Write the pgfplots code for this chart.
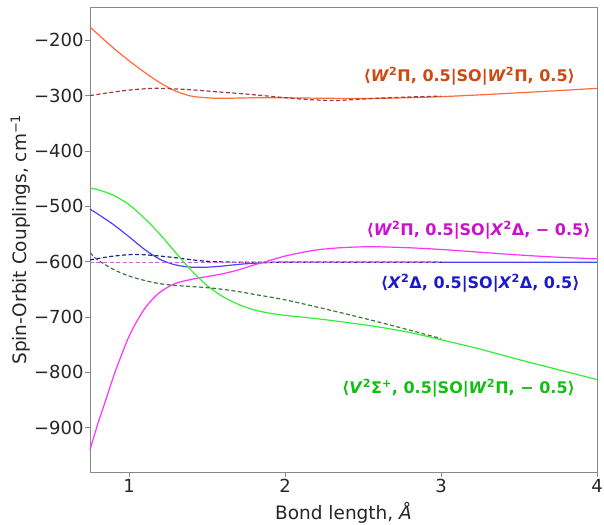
\documentclass[border=0pt]{standalone}
\usepackage{fontspec}
\setmainfont{DejaVu Sans}
\usepackage{pgfplots}
\pgfplotsset{compat=1.18}
\definecolor{orsol}{HTML}{FF6B3A}
\definecolor{brdash}{HTML}{A33A3A}
\definecolor{orlab}{HTML}{CC4A10}
\definecolor{magsol}{HTML}{FF33FF}
\definecolor{magdash}{HTML}{CC66CC}
\definecolor{maglab}{HTML}{CC10CC}
\definecolor{blsol}{HTML}{4444FF}
\definecolor{bldash}{HTML}{202090}
\definecolor{bllab}{HTML}{1A1ACC}
\definecolor{grsol}{HTML}{33EE33}
\definecolor{grdash}{HTML}{3A7A3A}
\definecolor{grlab}{HTML}{10C010}
\definecolor{frame}{HTML}{888888}
\begin{document}
\begin{tikzpicture}
\begin{axis}[
  scale only axis,
  width=507pt, height=465pt,
  clip=false,
  xmin=0.75, xmax=4, ymin=-980, ymax=-140,
  xtick={1,2,3,4}, xticklabels={1,2,3,4},
  ytick={-900,-800,-700,-600,-500,-400,-300,-200},
  yticklabels={−900,−800,−700,−600,−500,−400,−300,−200},
  tick align=outside, tick pos=left,
  major tick length=5pt,
  axis line style={frame, line width=0.8pt},
  tick style={frame, line width=0.8pt},
  tick label style={font=\fontsize{18}{21}\selectfont, text=black!85},
  label style={font=\fontsize{18.5}{21}\selectfont, text=black!85},
  yticklabel style={xshift=2pt},
  xticklabel style={yshift=1pt},
  xlabel={Bond length, \textit{Å}},
  ylabel={Spin-Orbit Couplings, cm\textsuperscript{−1}},
  xlabel style={yshift=-2pt},
  ylabel style={yshift=-3pt},
]
% W2Pi diagonal
\addplot[orsol, line width=1.2pt, smooth] coordinates {(0.75,-176) (0.8,-189) (0.9,-214) (1.0,-237) (1.1,-258) (1.2,-277) (1.3,-292) (1.4,-301) (1.5,-304) (1.6,-305) (1.8,-304) (2.0,-304) (2.3,-305) (2.6,-305) (3.0,-302) (3.5,-295) (4.0,-287)};
\addplot[brdash, line width=1.2pt, smooth, dash pattern=on 4pt off 2.5pt] coordinates {(0.75,-300) (0.97,-291) (1.15,-287) (1.3,-288) (1.42,-290) (1.6,-294) (1.78,-298) (2.09,-306) (2.31,-309) (2.51,-306) (2.75,-303) (3.0,-301)};
% X2Delta diagonal
\addplot[blsol, line width=1.2pt, smooth] coordinates {(0.75,-505) (0.8,-514) (0.9,-533) (1.0,-555) (1.1,-578) (1.2,-596) (1.3,-606) (1.4,-610) (1.5,-610) (1.6,-608) (1.7,-605) (1.8,-603) (2.0,-601) (2.5,-601) (3,-601) (3.5,-601) (4,-601)};
\addplot[bldash, line width=1.2pt, smooth, dash pattern=on 4pt off 2.5pt] coordinates {(0.75,-597) (0.9,-590) (1.06,-587) (1.27,-592) (1.48,-599) (1.7,-601) (2,-601) (2.5,-601) (3,-601)};
% W2Pi / X2Delta off-diagonal
\addplot[magsol, line width=1.2pt, smooth] coordinates {(0.75,-940) (0.8,-893) (0.85,-851) (0.9,-808) (0.95,-770) (1.0,-735) (1.05,-708) (1.1,-685) (1.15,-668) (1.2,-655) (1.25,-646) (1.3,-639) (1.4,-632) (1.5,-627) (1.6,-622) (1.7,-615) (1.8,-606) (1.9,-598) (2.0,-590) (2.1,-584) (2.2,-579) (2.35,-575) (2.55,-573) (2.8,-575) (3.0,-578) (3.25,-583) (3.5,-588) (3.75,-592) (4.0,-595)};
\addplot[magdash, line width=1.2pt, dash pattern=on 4pt off 2.5pt] coordinates {(0.75,-601) (1.5,-601) (2.25,-601) (3,-601)};
% V2Sigma / W2Pi off-diagonal
\addplot[grsol, line width=1.2pt, smooth] coordinates {(0.75,-467) (0.8,-470) (0.9,-480) (1.0,-497) (1.1,-522) (1.2,-551) (1.3,-584) (1.4,-616) (1.5,-643) (1.6,-663) (1.7,-677) (1.8,-687) (1.9,-693) (2.0,-697) (2.2,-703) (2.4,-710) (2.6,-718) (2.8,-728) (3.0,-741) (3.25,-758) (3.5,-777) (3.75,-795) (4.0,-813)};
\addplot[grdash, line width=1.2pt, smooth, dash pattern=on 4pt off 2.5pt] coordinates {(0.75,-584) (0.8,-597) (0.9,-614) (1.0,-626) (1.1,-634) (1.2,-640) (1.3,-643) (1.4,-645) (1.5,-647) (1.6,-650) (1.7,-654) (1.8,-659) (2.0,-669) (2.25,-685) (2.5,-702) (2.75,-720) (3.0,-739)};
% labels
\node[anchor=east, inner sep=0pt, text=orlab, font=\fontsize{16}{19}\selectfont\bfseries] at (axis cs:3.86,-265) {⟨\textit{W}\textsuperscript{2}Π, 0.5|SO|\textit{W}\textsuperscript{2}Π, 0.5⟩};
\node[anchor=east, inner sep=0pt, text=maglab, font=\fontsize{16}{19}\selectfont\bfseries] at (axis cs:3.96,-543) {⟨\textit{W}\textsuperscript{2}Π, 0.5|SO|\textit{X}\textsuperscript{2}Δ, − 0.5⟩};
\node[anchor=east, inner sep=0pt, text=bllab, font=\fontsize{16}{19}\selectfont\bfseries] at (axis cs:3.89,-639) {⟨\textit{X}\textsuperscript{2}Δ, 0.5|SO|\textit{X}\textsuperscript{2}Δ, 0.5⟩};
\node[anchor=east, inner sep=0pt, text=grlab, font=\fontsize{16}{19}\selectfont\bfseries] at (axis cs:3.86,-829) {⟨\textit{V}\textsuperscript{2}Σ\textsuperscript{+}, 0.5|SO|\textit{W}\textsuperscript{2}Π, − 0.5⟩};
% page extent
\coordinate (pgbl) at ([xshift=-90pt,yshift=-53pt]rel axis cs:0,0);
\coordinate (pgtr) at ([xshift=7pt,yshift=7pt]rel axis cs:1,1);
\end{axis}
\pgfresetboundingbox
\path[use as bounding box] (pgbl) rectangle (pgtr);
\end{tikzpicture}
\end{document}
